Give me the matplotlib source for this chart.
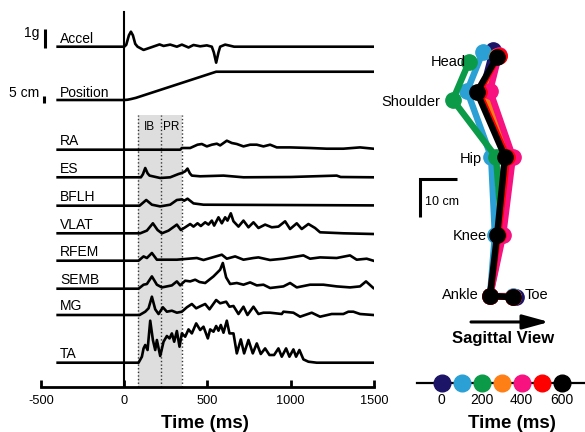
import matplotlib
matplotlib.use('Agg')
import matplotlib.pyplot as plt

plt.rcParams['font.family'] = ['Liberation Sans', 'DejaVu Sans']

# ---------------- Left panel data ----------------
accel_t = [-400, 0, 12, 28, 40, 52, 66, 80, 116, 156, 212, 236, 276, 316, 346, 386, 416, 456, 496,
           526, 538, 552, 566, 576, 606, 636, 660, 1500]
accel_g = [0, 0, 0.1, 0.6, 0.79, 0.6, 0.15, 0, -0.17, -0.05, 0.12, 0.04, 0.11, 0, 0.11, -0.04, 0.09,
           0.02, 0.07, 0, -0.3, -0.84, -0.3, 0, 0.11, 0.05, 0, 0]

pos_t = [-400, 0, 20, 40, 70, 552, 1500]
pos_cm = [0, 0, 0.2, 0.7, 1.6, 21.1, 21.1]

ra_t = [-400, 336, 346, 396, 440, 466, 496, 526, 556, 576, 616, 646, 676, 716, 756, 796, 836, 876,
        916, 996, 1116, 1216, 1316, 1416, 1496]
ra_amp = [0, 0, 1.7, 1.7, 5, 5.7, 3.3, 5, 6, 4.3, 9, 6.7, 5.7, 3.3, 5, 5, 3.3, 5, 2.3, 2.3, 1.7, 1,
          1, 2.3, 1]

es_t = [-400, 100, 112, 126, 140, 152, 216, 276, 326, 346, 366, 380, 394, 406, 456, 596, 716, 1000,
        1276, 1300, 1496]
es_amp = [0, 0, 3, 9.3, 4, 1.7, -0.7, 0, 3.3, 4.3, 6, 8.7, 4, 1.7, 1, 1.7, 0, 0.3, 1.7, 0.3, 0]

bflh_t = [-400, 92, 132, 166, 216, 276, 316, 346, 360, 380, 416, 476, 1496]
bflh_amp = [0, 0, 5.7, 1, -0.7, 1, 5.7, 6.3, 5, 7, 2.3, 1, 0.3]

vlat_t = [-400, 96, 136, 172, 200, 226, 266, 316, 340, 366, 396, 416, 440, 460, 486, 506, 526, 540,
          566, 586, 606, 620, 640, 656, 686, 716, 746, 776, 806, 846, 886, 926, 966, 996, 1036, 1066,
          1106, 1146, 1176, 1316, 1496]
vlat_amp = [0, 0, 2.7, 10, 3.3, 0, 2.7, 8.7, 3.3, 6, 9.3, 6.7, 10, 7.3, 11, 8.7, 12.7, 7.7, 16, 10,
            16, 12.7, 20, 12, 6.7, 12.7, 6, 11, 5.3, 8.7, 6, 6.7, 12, 4.3, 10, 4.3, 9.3, 5.3, 1, 0, -0.7]

rfem_t = [-400, 86, 116, 136, 166, 196, 316, 436, 476, 586, 616, 666, 716, 776, 806, 876, 956, 1076,
          1116, 1176, 1276, 1356, 1396, 1456, 1496]
rfem_amp = [0, 0, 4.3, 2.7, 7.7, 1, 1, 2.7, 0.7, 6, 2, 4.3, 1, 2.7, 3.3, 0.7, 2, 5.3, 2, 3.3, 2.7,
            5.3, 1, 2, 0]

semb_t = [-400, 86, 116, 136, 166, 196, 226, 286, 316, 336, 366, 396, 426, 452, 486, 536, 576, 592,
          612, 636, 676, 716, 756, 796, 836, 876, 956, 996, 1036, 1116, 1196, 1276, 1356, 1416, 1452,
          1496]
semb_amp = [0, 0, 4, 4.7, 12.3, 4, 1.3, 3.3, 7.3, 3.3, 8, 7.3, 9, 6.7, 5.7, 12.3, 19, 25.7, 11.3,
            4.7, 5.7, 4, 6.3, 3.3, 4, 0.7, 2.3, 5.7, 1.3, 4, 4, 2.3, 1.3, 2.3, 7.3, 0.7]

mg_t = [-400, 92, 126, 146, 166, 186, 206, 232, 256, 286, 316, 346, 376, 406, 432, 460, 486, 512,
        552, 576, 612, 632, 656, 686, 716, 740, 776, 806, 836, 876, 946, 956, 1016, 1056, 1126, 1176,
        1246, 1316, 1346, 1376, 1416, 1496]
mg_amp = [0, 0, 3.3, 6.7, 18.3, 5.7, 1, 7.7, 3.3, 4.3, 2.3, 3.3, 7.7, 11, 6.7, 9, 11, 5.7, 15, 11.7,
          13.3, 8.3, 9, 1, 8.3, 0, 8.3, 1, 2.3, 2.3, 1, 3.3, 2.3, -1.7, 2.3, -1.7, 1, 1, 3.3, 3.3, 1, 0]

ta_t = [-400, 86, 106, 116, 126, 140, 156, 172, 186, 196, 216, 236, 256, 272, 286, 300, 316, 332,
        346, 366, 386, 406, 432, 456, 476, 502, 516, 536, 552, 566, 580, 596, 616, 632, 656, 676, 700,
        720, 746, 772, 796, 820, 846, 872, 900, 926, 946, 972, 992, 1016, 1032, 1052, 1076, 1106,
        1156, 1496]
ta_amp = [0, 0, 6, 14.3, 17.7, 12.7, 42, 22.7, 12.7, 22.7, 6.7, 21, 26.7, 24.3, 29.3, 21, 31.7, 16,
          29.3, 26, 33.3, 29.3, 39.3, 32.7, 36, 24.3, 33.3, 31, 36.7, 32, 37.7, 30, 42, 29.3, 29.3,
          9.3, 23.3, 9.3, 22.7, 9.3, 19.3, 8.7, 14.3, 7.7, 7.7, 14.3, 6, 14.3, 6, 13.3, 6, 12.7, 3.3,
          1, 0, 0]

emg_names = ['RA', 'ES', 'BFLH', 'VLAT', 'RFEM', 'SEMB', 'MG', 'TA']
emg_series = [(ra_t, ra_amp), (es_t, es_amp), (bflh_t, bflh_amp), (vlat_t, vlat_amp),
              (rfem_t, rfem_amp), (semb_t, semb_amp), (mg_t, mg_amp), (ta_t, ta_amp)]

# phase windows (ms)
ib_start, ib_end, pr_end = 83, 221, 347

# ---------------- Right panel data ----------------
joint_names = ['Head', 'Shoulder', 'Hip', 'Knee', 'Ankle', 'Toe']
snap_times = [0, 100, 200, 300, 400, 500, 600]
snap_colors = ['#1c1466', '#2ba0d4', '#0b9a48', '#ff7f17', '#f7127f', '#ff0000', '#000000']
stick_x = {
    0:   [0.8, -2.1, 4.0, 1.9, 0, 6.9],
    100: [-1.9, -6.1, 0.3, 1.3, 0, 6.1],
    200: [-5.6, -9.9, 1.6, 3.2, 0, 6.1],
    300: [1.9, -1.3, 4.8, 2.4, 0, 6.1],
    400: [2.4, 0.0, 6.1, 3.5, 0, 6.1],
    500: [2.3, -3.0, 4.6, 2.2, 0, 6.1],
    600: [1.9, -3.5, 4.0, 1.9, 0, 6.1],
}
stick_y = {
    0:   [65.6, 54.4, 37.1, 16.3, 0, -0.3],
    100: [65.1, 54.7, 37.1, 16.3, 0, 0.0],
    200: [62.4, 52.3, 37.1, 16.3, 0, -0.3],
    300: [64.0, 54.4, 37.1, 16.3, 0, -0.3],
    400: [64.3, 54.7, 37.1, 16.3, 0, -0.3],
    500: [64.0, 54.4, 37.1, 16.3, 0, -0.3],
    600: [63.7, 54.4, 37.1, 16.3, 0, -0.3],
}
legend_ticks = [0, 200, 400, 600]

# ---------------- Figure ----------------
fig = plt.figure(figsize=(5.85, 4.32), dpi=100)

ax = fig.add_axes([41 / 585, 45 / 432, 333 / 585, 375 / 432])
ax.set_xlim(-500, 1500)
ax.set_ylim(0, 375)

ACC_GAIN = 19.0    # display units per g
POS_GAIN = 1.34    # display units per cm
EMG_GAIN = 1.0
acc_base, pos_base = 340.3, 287.0
emg_bases = [237.3, 209.7, 181.3, 153.7, 126.3, 98.3, 72.0, 24.3]

# shaded phases
ax.axvspan(ib_start, pr_end, ymin=0, ymax=272 / 375, color='#dedede', lw=0, zorder=0)
for xv in (ib_start, ib_end, pr_end):
    ax.plot([xv, xv], [0, 272], color='#333333', lw=1.0, ls=(0, (1, 1.6)), zorder=1)
ax.text((ib_start + ib_end) / 2, 257, 'IB', ha='center', va='baseline', fontsize=8.5)
ax.text((ib_end + pr_end) / 2, 257, 'PR', ha='center', va='baseline', fontsize=8.5)

# zero line
ax.plot([0, 0], [0, 375], color='black', lw=1.5, zorder=2, clip_on=False)

lw = 1.9
ax.plot(accel_t, [acc_base + ACC_GAIN * v for v in accel_g], color='black', lw=lw, zorder=3)
ax.plot(pos_t, [pos_base + POS_GAIN * v for v in pos_cm], color='black', lw=lw, zorder=3)
for (t, a), b in zip(emg_series, emg_bases):
    ax.plot(t, [b + EMG_GAIN * v for v in a], color='black', lw=lw, zorder=3,
            solid_joinstyle='round')

lab_x = -386
ax.text(lab_x, 343.7, 'Accel', ha='left', va='baseline', fontsize=10)
ax.text(lab_x, 290.3, 'Position', ha='left', va='baseline', fontsize=10)
for name, b in zip(emg_names, emg_bases):
    ax.text(lab_x, b + 4.6, name, ha='left', va='baseline', fontsize=10)

# scale bars
ax.plot([-474, -474], [acc_base - 1.3, acc_base - 1.3 + ACC_GAIN * 1.0], color='black', lw=2.2,
        clip_on=False, solid_capstyle='butt')
ax.text(-508, 349.7, '1g', ha='right', va='baseline', fontsize=10)
ax.plot([-480, -480], [pos_base - 3, pos_base - 3 + POS_GAIN * 5], color='black', lw=2.2,
        clip_on=False, solid_capstyle='butt')
ax.text(-510, 290.3, '5 cm', ha='right', va='baseline', fontsize=10)

for s in ('top', 'right', 'left'):
    ax.spines[s].set_visible(False)
ax.spines['bottom'].set_linewidth(2.0)
ax.set_yticks([])
ax.set_xticks([-500, 0, 500, 1000, 1500])
ax.set_xticklabels(['-500', '0', '500', '1000', '1500'])
ax.tick_params(axis='x', direction='in', length=5.2, width=2.0, labelsize=9.2, pad=6)
xl = ax.set_xlabel('Time (ms)', fontsize=13.5, fontweight='bold')
xl.set_va('baseline')
ax.xaxis.set_label_coords((205 - 41) / 333, (387 - 427.5) / 375)

# ---------------- Stick figure ----------------
ax2 = fig.add_axes([380 / 585, 87 / 432, 205 / 585, 315 / 432])
ax2.set_xlim(-29.33, 25.33)
ax2.set_ylim(-13.07, 70.93)
ax2.axis('off')
for tm, c in zip(snap_times, snap_colors):
    ax2.plot(stick_x[tm], stick_y[tm], color=c, lw=4.6, marker='o', markersize=11,
             solid_joinstyle='round', solid_capstyle='round', clip_on=False)

ax2.text(-6.4, 61.4, 'Head', ha='right', va='baseline', fontsize=10.5)
ax2.text(-13.15, 50.7, 'Shoulder', ha='right', va='baseline', fontsize=10.5)
ax2.text(-2.05, 35.4, 'Hip', ha='right', va='baseline', fontsize=10.5)
ax2.text(-0.8, 14.9, 'Knee', ha='right', va='baseline', fontsize=10.5)
ax2.text(-2.9, -0.8, 'Ankle', ha='right', va='baseline', fontsize=10.5)
ax2.text(9.33, -0.8, 'Toe', ha='left', va='baseline', fontsize=10.5)

# 10 cm scale bar
ax2.plot([-8.7, -18.7, -18.7], [31.1, 31.1, 21.1], color='black', lw=2.2,
         solid_joinstyle='miter', solid_capstyle='butt')
ax2.text(-17.3, 24.3, '10 cm', ha='left', va='baseline', fontsize=9)

ax2.annotate('', xy=(15.73, -6.93), xytext=(-5.07, -6.93),
             arrowprops=dict(arrowstyle='-|>,head_length=0.8,head_width=0.22', mutation_scale=20,
                             lw=2.2, color='black', shrinkA=0, shrinkB=0))
ax2.text(3.4, -12.45, 'Sagittal View', ha='center', va='baseline', fontsize=12, fontweight='bold')

# ---------------- Time colour legend ----------------
ax3 = fig.add_axes([405 / 585, 42 / 432, 180 / 585, 15 / 432])
ax3.set_xlim(-183.5, 716.5)
ax3.set_ylim(-1, 1)
ax3.plot([-125, 716.5], [0, 0], color='black', lw=1.6, zorder=1, clip_on=False)
for tm, c in zip(snap_times, snap_colors):
    ax3.plot([tm], [0], marker='o', markersize=12, color=c, zorder=2, clip_on=False, lw=0)
for s in ax3.spines.values():
    s.set_visible(False)
ax3.set_yticks([])
ax3.set_xticks(legend_ticks)
ax3.set_xticklabels([str(v) for v in legend_ticks])
ax3.tick_params(axis='x', length=0, labelsize=10, pad=2)
xl3 = ax3.set_xlabel('Time (ms)', fontsize=13.5, fontweight='bold')
xl3.set_va('baseline')
ax3.xaxis.set_label_coords((511.7 - 405) / 180, (390 - 427.5) / 15)

fig.savefig('out.png', dpi=100)
